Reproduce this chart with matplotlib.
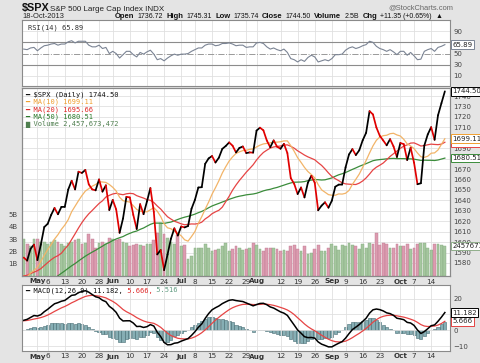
import numpy as np
import matplotlib
matplotlib.use("Agg")
import matplotlib.pyplot as plt
from matplotlib.collections import LineCollection
from matplotlib.transforms import blended_transform_factory as btf, offset_copy

W, H = 480, 363

# ---------------- data (daily, 25-Apr-2013 .. 18-Oct-2013) ----------------
closes = [1585.16, 1582.24, 1593.61, 1597.57, 1582.70, 1597.59, 1614.42, 1617.50, 1625.96, 1632.69,
          1626.67, 1633.70, 1633.77, 1650.34, 1658.78, 1650.47, 1667.47, 1666.29, 1669.16, 1655.35,
          1650.51, 1649.60, 1660.06, 1648.36, 1654.41, 1630.74, 1640.42, 1631.38, 1608.90, 1622.56,
          1643.38, 1642.81, 1626.13, 1612.52, 1636.36, 1626.73, 1639.04, 1651.81, 1628.93, 1588.19,
          1592.43, 1573.09, 1588.03, 1603.26, 1613.20, 1606.28, 1614.96, 1614.08, 1615.41, 1631.89,
          1640.46, 1652.32, 1652.62, 1675.02, 1680.19, 1682.50, 1676.26, 1680.91, 1689.37, 1692.09,
          1695.53, 1692.39, 1685.94, 1690.25, 1691.65, 1685.33, 1685.96, 1685.73, 1706.87, 1709.67,
          1707.14, 1697.37, 1690.91, 1697.48, 1691.42, 1689.47, 1694.16, 1685.39, 1661.32, 1655.83,
          1646.06, 1652.35, 1642.80, 1656.96, 1663.50, 1656.78, 1630.48, 1634.96, 1638.17, 1632.97,
          1639.77, 1653.08, 1655.08, 1655.17, 1671.71, 1683.99, 1689.13, 1683.42, 1687.99, 1697.60,
          1704.76, 1725.52, 1722.34, 1709.91, 1701.84, 1697.42, 1692.77, 1698.67, 1691.75, 1681.55,
          1695.00, 1693.87, 1678.66, 1690.50, 1676.12, 1655.45, 1656.40, 1692.56, 1703.20, 1710.14,
          1698.06, 1721.54, 1733.15, 1744.50]

ma10 = [1567.0, 1566.3, 1570.5, 1572.8, 1575.8, 1581.4, 1587.3, 1592.8, 1597.6, 1602.9,
        1607.1, 1612.2, 1616.3, 1621.5, 1629.1, 1634.4, 1639.7, 1644.6, 1648.9, 1651.2,
        1653.6, 1655.2, 1657.8, 1657.6, 1657.2, 1655.2, 1652.5, 1649.0, 1643.0, 1639.7,
        1639.0, 1638.3, 1634.9, 1631.3, 1629.5, 1629.1, 1629.0, 1631.0, 1633.0, 1629.6,
        1624.5, 1617.5, 1613.7, 1612.8, 1610.5, 1608.4, 1606.0, 1602.2, 1600.9, 1605.3,
        1610.1, 1618.0, 1624.4, 1631.6, 1638.3, 1645.9, 1652.1, 1658.8, 1666.2, 1672.2,
        1677.7, 1681.7, 1685.0, 1686.5, 1687.7, 1688.0, 1688.9, 1689.4, 1691.2, 1692.9,
        1694.1, 1694.6, 1695.1, 1695.8, 1695.8, 1696.2, 1697.0, 1697.0, 1692.4, 1687.0,
        1680.9, 1676.4, 1671.6, 1667.6, 1664.8, 1661.5, 1655.1, 1650.1, 1647.8, 1645.5,
        1644.9, 1644.9, 1646.2, 1646.0, 1646.8, 1649.5, 1655.4, 1660.2, 1665.2, 1671.7,
        1678.2, 1685.4, 1692.2, 1697.6, 1700.7, 1702.0, 1702.4, 1703.9, 1704.3, 1702.7,
        1701.7, 1698.5, 1694.1, 1692.2, 1689.6, 1685.4, 1681.8, 1681.2, 1682.3, 1685.2,
        1685.5, 1688.3, 1693.7, 1699.1]

ma20 = [1567.6, 1568.2, 1569.8, 1571.2, 1572.6, 1574.5, 1577.5, 1580.3, 1583.1, 1585.4,
        1587.0, 1589.3, 1593.4, 1597.1, 1602.5, 1607.9, 1613.5, 1618.7, 1623.2, 1627.1,
        1630.3, 1633.7, 1637.0, 1639.6, 1643.2, 1644.8, 1646.1, 1646.8, 1646.0, 1645.4,
        1646.3, 1646.7, 1646.4, 1644.5, 1643.3, 1642.2, 1640.7, 1640.0, 1638.0, 1634.6,
        1631.7, 1627.9, 1624.3, 1622.1, 1620.0, 1618.8, 1617.5, 1616.6, 1617.0, 1617.4,
        1617.3, 1617.8, 1619.1, 1622.2, 1624.4, 1627.2, 1629.0, 1630.5, 1633.5, 1638.7,
        1643.9, 1649.8, 1654.7, 1659.1, 1663.0, 1667.0, 1670.5, 1674.1, 1678.7, 1682.6,
        1685.9, 1688.1, 1690.1, 1691.2, 1691.7, 1692.1, 1693.0, 1693.2, 1691.8, 1690.0,
        1687.5, 1685.5, 1683.4, 1681.7, 1680.3, 1678.9, 1676.1, 1673.5, 1670.1, 1666.3,
        1662.9, 1660.7, 1658.9, 1656.8, 1655.8, 1655.5, 1655.3, 1655.2, 1656.5, 1658.6,
        1661.5, 1665.2, 1669.2, 1671.8, 1673.7, 1675.8, 1678.9, 1682.1, 1684.7, 1687.2,
        1689.9, 1692.0, 1693.2, 1694.9, 1695.1, 1693.7, 1692.1, 1692.5, 1693.3, 1693.9,
        1693.6, 1693.4, 1693.9, 1695.7]

ma50 = [1548.7, 1550.0, 1551.4, 1553.0, 1554.0, 1555.7, 1558.0, 1560.0, 1562.8, 1565.5,
        1567.7, 1570.1, 1572.4, 1574.9, 1577.3, 1579.4, 1581.9, 1584.2, 1586.5, 1588.5,
        1590.4, 1592.2, 1594.2, 1596.1, 1598.2, 1599.6, 1601.5, 1603.0, 1604.2, 1605.3,
        1607.0, 1608.4, 1609.7, 1610.6, 1612.2, 1613.5, 1615.3, 1617.0, 1618.2, 1618.2,
        1618.2, 1617.9, 1618.6, 1619.2, 1620.4, 1621.7, 1622.9, 1623.9, 1624.7, 1625.7,
        1626.8, 1628.2, 1629.4, 1631.0, 1632.9, 1634.6, 1635.9, 1637.1, 1638.4, 1639.6,
        1641.0, 1642.1, 1643.2, 1644.0, 1644.6, 1645.3, 1645.7, 1646.1, 1646.8, 1647.9,
        1649.1, 1650.0, 1650.6, 1651.6, 1652.4, 1653.5, 1654.6, 1655.7, 1656.7, 1657.4,
        1657.5, 1657.6, 1658.0, 1658.9, 1659.4, 1660.0, 1659.8, 1659.5, 1659.7, 1660.6,
        1661.5, 1663.1, 1664.5, 1665.5, 1666.7, 1668.2, 1669.7, 1671.1, 1672.6, 1673.9,
        1675.2, 1676.6, 1678.0, 1678.7, 1679.1, 1679.4, 1679.8, 1680.1, 1680.2, 1680.0,
        1680.0, 1680.0, 1679.8, 1679.8, 1679.5, 1678.9, 1678.3, 1678.5, 1678.4, 1678.4,
        1678.2, 1678.7, 1679.6, 1680.51]

volumes_b = [3.0, 2.6, 2.4, 3.0, 3.0, 2.8, 2.8, 2.6, 2.8, 2.9,
             2.8, 2.6, 2.4, 2.7, 2.8, 2.9, 3.0, 2.6, 2.7, 3.4,
             3.0, 2.3, 2.7, 2.8, 2.6, 3.1, 3.0, 2.9, 3.0, 2.8,
             2.7, 2.4, 2.5, 2.6, 2.5, 2.4, 2.6, 2.6, 2.9, 3.5,
             4.3, 3.4, 3.1, 2.8, 2.6, 3.3, 2.4, 2.5, 1.4, 1.6,
             2.3, 2.3, 2.3, 2.6, 2.3, 2.0, 2.1, 2.2, 2.4, 2.7,
             2.0, 2.2, 2.4, 2.3, 2.1, 2.2, 2.3, 2.7, 2.5, 2.2,
             2.0, 2.3, 2.3, 2.3, 2.2, 2.0, 2.1, 2.0, 2.4, 2.5,
             2.2, 2.0, 2.4, 1.8, 1.9, 2.2, 2.5, 2.0, 2.0, 2.3,
             2.6, 2.4, 2.1, 2.5, 2.4, 2.7, 2.5, 2.4, 2.2, 2.6,
             2.3, 2.7, 2.6, 3.5, 2.5, 2.7, 2.6, 2.3, 2.3, 2.6,
             2.4, 2.4, 2.6, 2.2, 2.3, 2.6, 2.7, 2.7, 2.3, 2.1,
             2.6, 2.6, 2.5, 2.457673472]

rsi14 = [58, 57, 60, 61, 55, 60, 64, 65, 67, 68, 65, 67, 67, 71, 73, 69, 72, 72, 72, 65,
         62, 62, 65, 59, 61, 50, 54, 50, 42, 48, 54, 54, 48, 44, 52, 49, 53, 56, 49, 39,
         41, 37, 42, 46, 49, 47, 49, 49, 50, 54, 57, 60, 60, 65, 67, 67, 64, 65, 68, 68,
         69, 67, 64, 65, 65, 61, 62, 62, 69, 70, 68, 62, 58, 60, 57, 55, 58, 52, 41, 39,
         35, 39, 36, 43, 47, 44, 35, 37, 39, 37, 41, 48, 48, 49, 56, 60, 62, 59, 61, 64,
         66, 72, 70, 63, 59, 57, 54, 57, 53, 48, 54, 54, 47, 52, 46, 39, 40, 54, 57, 59,
         54, 61, 63, 65.89]

macd_line = [6.3, 6.9, 8.1, 9.3, 9.0, 9.8, 11.7, 13.2, 15.0, 16.7, 17.4, 18.3, 18.8, 20.4, 22.0, 22.3,
             23.7, 24.4, 24.9, 24.0, 22.5, 21.1, 20.5, 18.9, 18.0, 15.1, 13.5, 11.3, 7.7, 5.9, 6.0,
             6.0, 4.6, 2.4, 2.5, 1.8, 2.3, 3.6, 2.7, -1.2, -3.9, -7.6, -9.1, -9.0, -8.1, -7.8, -6.8,
             -6.0, -5.2, -3.2, -0.9, 1.9, 4.0, 7.5, 10.5, 12.9, 14.2, 15.3, 16.8, 17.9, 18.9, 19.2,
             18.7, 18.4, 18.1, 17.2, 16.3, 15.4, 16.2, 16.9, 17.0, 16.1, 14.7, 14.0, 12.8, 11.6, 10.8,
             9.4, 6.3, 3.3, 0.2, -1.8, -4.0, -4.6, -4.5, -4.9, -7.3, -8.7, -9.5, -10.4, -10.4, -9.2, -8.1,
             -7.1, -4.9, -2.1, 0.5, 2.0, 3.6, 5.6, 7.6, 10.8, 12.9, 13.4, 13.0, 12.2, 11.0, 10.5, 9.4,
             7.6, 7.2, 6.7, 5.0, 4.6, 3.1, 0.2, -2.0, -0.8, 1.0, 2.9, 3.4, 5.7, 8.3, 11.182]

signal_line = [6.0, 6.2, 6.6, 7.1, 7.5, 8.0, 8.7, 9.6, 10.7, 11.9, 13.0, 14.1, 15.0, 16.1, 17.3, 18.3,
               19.4, 20.4, 21.3, 21.8, 22.0, 21.8, 21.5, 21.0, 20.4, 19.3, 18.2, 16.8, 15.0, 13.1, 11.7,
               10.6, 9.4, 8.0, 6.9, 5.9, 5.2, 4.8, 4.4, 3.3, 1.9, 0.0, -1.8, -3.3, -4.2, -5.0, -5.3,
               -5.4, -5.4, -4.9, -4.1, -2.9, -1.5, 0.3, 2.3, 4.4, 6.4, 8.2, 9.9, 11.5, 13.0, 14.2,
               15.1, 15.8, 16.3, 16.4, 16.4, 16.2, 16.2, 16.3, 16.5, 16.4, 16.1, 15.7, 15.1, 14.4, 13.7,
               12.8, 11.5, 9.9, 7.9, 6.0, 4.0, 2.3, 0.9, -0.3, -1.7, -3.1, -4.4, -5.6, -6.5, -7.1, -7.3,
               -7.2, -6.8, -5.8, -4.6, -3.2, -1.9, -0.4, 1.2, 3.1, 5.1, 6.7, 8.0, 8.8, 9.3, 9.5, 9.5,
               9.1, 8.7, 8.3, 7.7, 7.0, 6.2, 5.0, 3.6, 2.7, 2.4, 2.5, 2.7, 3.3, 4.3, 5.666]

macd_hist = [0.3, 0.7, 1.6, 2.2, 1.5, 1.8, 3.0, 3.6, 4.3, 4.8, 4.4, 4.3, 3.8, 4.3, 4.7, 4.0,
             4.3, 4.0, 3.6, 2.1, 0.6, -0.7, -1.0, -2.1, -2.4, -4.2, -4.7, -5.5, -7.3, -7.3, -5.7,
             -4.6, -4.8, -5.6, -4.4, -4.1, -2.9, -1.3, -1.7, -4.5, -5.8, -7.5, -7.3, -5.8, -3.8, -2.8,
             -1.5, -0.5, 0.2, 1.8, 3.3, 4.8, 5.6, 7.2, 8.2, 8.5, 7.8, 7.2, 6.9, 6.4, 5.9, 5.0,
             3.6, 2.7, 1.9, 0.7, -0.1, -0.8, 0.0, 0.5, 0.5, -0.3, -1.3, -1.6, -2.3, -2.8, -2.9,
             -3.4, -5.2, -6.5, -7.7, -7.8, -8.0, -6.9, -5.4, -4.7, -5.6, -5.6, -5.1, -4.8, -3.9, -2.2, -0.8,
             0.2, 1.9, 3.7, 5.0, 5.3, 5.5, 6.0, 6.4, 7.7, 7.8, 6.7, 5.0, 3.4, 1.8, 1.0, -0.1,
             -1.5, -1.5, -1.6, -2.6, -2.5, -3.2, -4.9, -5.6, -3.6, -1.4, 0.4, 0.8, 2.4, 4.0, 5.516]

tick_idx = [4, 7, 12, 17, 22, 26, 31, 36, 41, 46, 50, 55, 60, 65, 68, 75, 80, 85, 90, 94, 99, 104, 110, 114, 119]
tick_lbl = ["May", "6", "13", "20", "28", "Jun", "10", "17", "24", "Jul", "8", "15", "22", "29", "Aug",
            "12", "19", "26", "Sep", "9", "16", "23", "Oct", "7", "14"]
months = {"May", "Jun", "Jul", "Aug", "Sep", "Oct"}

n = len(closes)
x = np.arange(n)
c = np.array(closes)
up = np.concatenate([[True], c[1:] >= c[:-1]])

# ---------------- figure ----------------
fig = plt.figure(figsize=(W / 100, H / 100), dpi=100)
fig.patch.set_facecolor('#e4e4e4')


def rect(l, t, r, b):
    return [l / W, 1 - b / H, (r - l) / W, (b - t) / H]


XL = (-0.5, n + 0.5)
GRID = '#e0e0e0'
LBL = '#444444'
MONO = 'DejaVu Sans Mono'


def base(ax):
    ax.set_xlim(*XL)
    for sp in ax.spines.values():
        sp.set_color('#8a8a8a'); sp.set_linewidth(0.8)
    ax.set_xticks(tick_idx)
    ax.tick_params(axis='x', length=0, labelbottom=False)
    ax.tick_params(axis='y', length=0, pad=2.5, labelsize=5, labelcolor=LBL)
    ax.yaxis.tick_right()


def date_labels(ax):
    tr = offset_copy(btf(ax.transData, ax.transAxes), fig=fig, y=-2.5, units='dots')
    for i, lb in zip(tick_idx, tick_lbl):
        ax.text(i, 0, lb, transform=tr, ha='center', va='top', fontsize=5.2,
                fontweight='bold' if lb in months else 'normal', color='#333333',
                family='DejaVu Sans')


def tag(ax, y, txt, ec, trans=None, fc='white', tc='#222222'):
    tr = offset_copy(btf(ax.transAxes, trans if trans is not None else ax.transData), fig=fig, x=2.5, units='dots')
    ax.text(1.0, y, txt, transform=tr, ha='left', va='center', fontsize=5, color=tc,
            bbox=dict(boxstyle='square,pad=0.18', fc=fc, ec=ec, lw=0.7), clip_on=False, zorder=6)


# ---------------- RSI panel ----------------
ax_r = fig.add_axes(rect(22, 20, 450, 86))
base(ax_r)
ax_r.set_ylim(-8, 110)
ax_r.set_yticks([10, 30, 50, 70, 90])
ax_r.grid(True, axis='x', color=GRID, lw=0.6)
for lv in (10, 90):
    ax_r.axhline(lv, color=GRID, lw=0.6)
for lv in (30, 70):
    ax_r.axhline(lv, color='#8c8c8c', lw=0.8)
ax_r.axhline(50, color='#999999', lw=0.7, ls='-.')
ax_r.plot(x, rsi14, color='#7b8494', lw=0.8)
ax_r.text(0.015, 0.93, "RSI(14) 65.89", transform=ax_r.transAxes, ha='left', va='top',
          fontsize=5, family=MONO, color='#333333')
tag(ax_r, rsi14[-1], "65.89", '#7b8494')

# ---------------- price panel ----------------
ax_bg = fig.add_axes(rect(22, 88, 450, 276))
base(ax_bg)
ax_bg.set_ylim(1567.5, 1747.7)
ax_bg.set_yticks(np.arange(1580, 1741, 10))
ax_bg.tick_params(axis='y', labelright=False)
ax_bg.grid(True, color=GRID, lw=0.6)

ax_v = fig.add_axes(rect(22, 88, 450, 276))
ax_v.set_xlim(*XL)
ax_v.set_ylim(0, 188 / 12.3)
ax_v.patch.set_visible(False)
for sp in ax_v.spines.values():
    sp.set_visible(False)
ax_v.set_xticks([])
ax_v.set_yticks([1, 2, 3, 4, 5])
ax_v.set_yticklabels(["1B", "2B", "3B", "4B", "5B"])
ax_v.tick_params(axis='y', length=0, pad=3, labelsize=5, labelcolor=LBL)
vcol = np.where(up, '#a5c79f', '#dc9cb0')
vedge = np.where(up, '#86aa80', '#bf7a91')
ax_v.bar(x, volumes_b, width=0.82, color=vcol, edgecolor=vedge, lw=0.3)

ax_p = fig.add_axes(rect(22, 88, 450, 276))
base(ax_p)
ax_p.patch.set_visible(False)
ax_p.set_ylim(1567.5, 1747.7)
ax_p.set_yticks(np.arange(1580, 1741, 10))
ax_p.plot(x, ma50, color='#3b8c3b', lw=0.9)
ax_p.plot(x, ma20, color='#e64444', lw=0.9)
ax_p.plot(x, ma10, color='#f2b468', lw=0.9)
pts = np.column_stack([x, c])
segs = np.stack([pts[:-1], pts[1:]], axis=1)
seg_col = np.where(up[1:], '#000000', '#e00000')
ax_p.add_collection(LineCollection(segs, colors=seg_col, lw=1.25, capstyle='round', joinstyle='round'))
date_labels(ax_p)

leg = [("━ $SPX (Daily) 1744.50", '#111111'),
       ("━ MA(10) 1699.11", '#f0a030'),
       ("━ MA(20) 1695.66", '#e02828'),
       ("━ MA(50) 1680.51", '#2a7a2a'),
       ("▆ Volume 2,457,673,472", '#4f7f4f')]
for k, (t, col) in enumerate(leg):
    ax_p.text(3 / 428, 1 - (3.5 + 7.4 * k) / 188, t, transform=ax_p.transAxes, ha='left', va='top',
              fontsize=5, family=MONO, color=col)

tag(ax_p, volumes_b[-1], "2457673472", '#8fae8a', trans=ax_v.transData)
tag(ax_p, ma50[-1], "1680.51", '#3b8c3b')
tag(ax_p, ma20[-1], "1695.66", '#e64444')
tag(ax_p, ma10[-1], "1699.11", '#f0a030')
tag(ax_p, closes[-1], "1744.50", '#000000')

# ---------------- MACD panel ----------------
ax_m = fig.add_axes(rect(22, 285, 450, 351))
base(ax_m)
ax_m.set_ylim(-13, 28.5)
ax_m.set_yticks([-10, 0, 10, 20])
ax_m.grid(True, color=GRID, lw=0.6)
ax_m.bar(x, macd_hist, width=0.9, color='#86aeb4', edgecolor='#456b72', lw=0.4)
ax_m.plot(x, signal_line, color='#e64444', lw=0.9)
ax_m.plot(x, macd_line, color='#000000', lw=1.1)
date_labels(ax_m)
tag(ax_m, macd_hist[-1], "5.516", '#6a9a8a')
tag(ax_m, signal_line[-1], "5.666", '#e64444')
tag(ax_m, macd_line[-1], "11.182", '#000000')

fig.canvas.draw()
rend = fig.canvas.get_renderer()


def seq(ax, x0, y0, pieces, **kw):
    xx = x0
    for txt, col in pieces:
        t = ax.text(xx, y0, txt, transform=ax.transAxes, color=col, **kw)
        bb = t.get_window_extent(rend)
        xx += bb.width / ax.bbox.width


seq(ax_m, 3 / 428, 1 - 2.5 / 66,
    [("━ MACD(12,26,9) 11.182,", '#111111'), (" 5.666,", '#e02828'), (" 5.516", '#5f9a80')],
    ha='left', va='top', fontsize=5, family=MONO)

# ---------------- header ----------------
HF = 'Liberation Sans'
fig.text(22 / W, 1 - 11.5 / H, "$SPX", fontsize=7.8, fontweight='bold', family=HF, color='#111111')
fig.text(50 / W, 1 - 11 / H, "S&P 500 Large Cap Index INDX", fontsize=5.8, family=HF, color='#222222')
fig.text(22.5 / W, 1 - 18.3 / H, "18-Oct-2013", fontsize=5.4, family=HF, color='#222222')
fig.text(388 / W, 1 - 9 / H, "@StockCharts.com", fontsize=5.4, family=HF, color='#666666')

hx = 115 / W
pieces = [("Open", True), ("1736.72", False), ("High", True), ("1745.31", False), ("Low", True),
          ("1735.74", False), ("Close", True), ("1744.50", False), ("Volume", True), ("2.5B", False),
          ("Chg", True), ("+11.35 (+0.65%)", False), ("▲", False)]
for txt, b in pieces:
    t = fig.text(hx, 1 - 18.3 / H, txt, fontsize=5.5 if b else 5.0, fontweight='bold' if b else 'normal',
                 family=[HF, 'DejaVu Sans'], color='#111111')
    bb = t.get_window_extent(rend)
    hx += (bb.width + 3.2) / W

fig.savefig("out.png", dpi=100, facecolor=fig.get_facecolor())
